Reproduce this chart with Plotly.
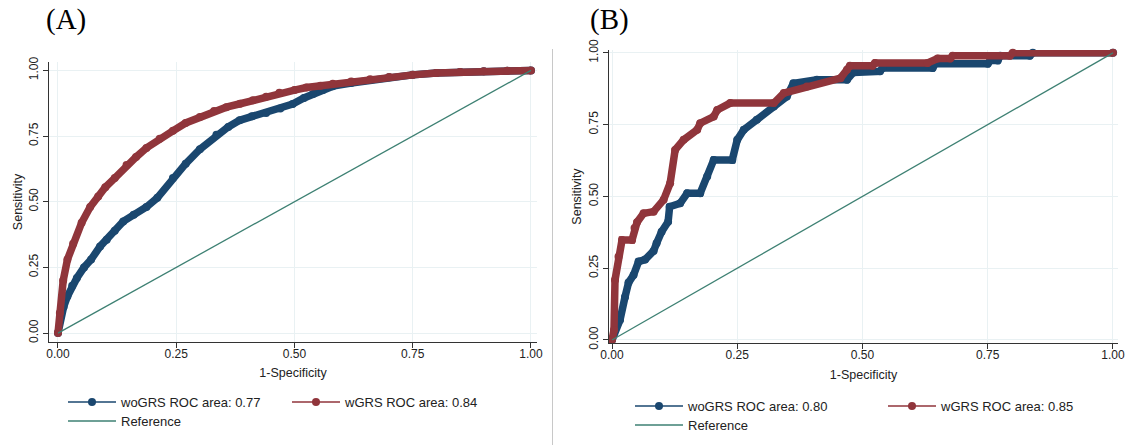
import plotly.graph_objects as go

W, H = 1132, 445

# ---------------- data ----------------
# Panel A
a_wo_x = [0, 0.005, 0.012, 0.02, 0.03, 0.04, 0.055, 0.07, 0.089, 0.103, 0.12, 0.138, 0.16, 0.187,
          0.21, 0.243, 0.27, 0.3, 0.335, 0.36, 0.384, 0.41, 0.44, 0.47, 0.496, 0.52, 0.539, 0.56,
          0.581, 0.62, 0.66, 0.7, 0.75, 0.8, 0.85, 0.9, 0.95, 1.0]
a_wo_y = [0, 0.06, 0.1, 0.14, 0.18, 0.21, 0.25, 0.28, 0.33, 0.355, 0.39, 0.425, 0.45, 0.48,
          0.515, 0.59, 0.645, 0.7, 0.755, 0.785, 0.81, 0.825, 0.838, 0.855, 0.872, 0.895, 0.91, 0.925,
          0.94, 0.952, 0.963, 0.974, 0.983, 0.99, 0.994, 0.997, 0.999, 1.0]
a_w_x = [0, 0.004, 0.011, 0.02, 0.032, 0.05, 0.068, 0.085, 0.1, 0.12, 0.145, 0.165, 0.187, 0.215,
         0.243, 0.27, 0.3, 0.33, 0.356, 0.385, 0.412, 0.44, 0.468, 0.5, 0.525, 0.555, 0.581, 0.62,
         0.66, 0.7, 0.75, 0.8, 0.85, 0.9, 0.95, 1.0]
a_w_y = [0, 0.076, 0.2, 0.28, 0.34, 0.42, 0.48, 0.52, 0.555, 0.59, 0.64, 0.67, 0.705, 0.74,
         0.77, 0.8, 0.823, 0.845, 0.86, 0.873, 0.886, 0.9, 0.915, 0.925, 0.935, 0.942, 0.949, 0.958,
         0.966, 0.975, 0.983, 0.99, 0.994, 0.997, 0.999, 1.0]

# Panel B
b_wo_x = [0, 0.016, 0.026, 0.033, 0.043, 0.053, 0.066, 0.083, 0.089, 0.099, 0.112, 0.115, 0.136,
          0.15, 0.176, 0.19, 0.203, 0.24, 0.25, 0.263, 0.289, 0.323, 0.349, 0.362, 0.409, 0.469,
          0.482, 0.535, 0.54, 0.64, 0.645, 0.75, 0.755, 0.77, 0.775, 0.834, 0.84, 1.0]
b_wo_y = [0, 0.07, 0.15, 0.2, 0.226, 0.273, 0.28, 0.31, 0.337, 0.377, 0.412, 0.464, 0.476,
          0.511, 0.511, 0.569, 0.627, 0.627, 0.697, 0.732, 0.767, 0.813, 0.848, 0.894, 0.906, 0.906,
          0.932, 0.936, 0.947, 0.947, 0.962, 0.962, 0.973, 0.973, 0.99, 0.99, 1.0, 1.0]
b_w_x = [0, 0.004, 0.006, 0.013, 0.02, 0.04, 0.045, 0.05, 0.063, 0.083, 0.103, 0.116, 0.126, 0.143,
         0.17, 0.176, 0.203, 0.21, 0.236, 0.323, 0.343, 0.389, 0.456, 0.469, 0.475, 0.52, 0.525,
         0.63, 0.65, 0.675, 0.68, 0.794, 0.8, 1.0]
b_w_y = [0, 0.035, 0.209, 0.29, 0.348, 0.348, 0.39, 0.41, 0.441, 0.447, 0.488, 0.546, 0.662, 0.697,
         0.732, 0.755, 0.778, 0.801, 0.825, 0.825, 0.86, 0.883, 0.912, 0.941, 0.955, 0.955, 0.965,
         0.965, 0.98, 0.98, 0.99, 0.99, 1.0, 1.0]

ref_x = [0, 1]
ref_y = [0, 1]

labels_a = ["woGRS ROC area: 0.77", "wGRS ROC area: 0.84"]
labels_b = ["woGRS ROC area: 0.80", "wGRS ROC area: 0.85"]
ticks = [0, 0.25, 0.5, 0.75, 1.0]
tick_text = ["0.00", "0.25", "0.50", "0.75", "1.00"]

NAVY = "#1a476f"
MAROON = "#90353b"
TEAL = "#3e8173"
GRID = "#e9f1f3"
FONT = "Liberation Sans"

fig = go.Figure()


def add_panel(xa, ya, wo_x, wo_y, w_x, w_y, labels, lg_wo, lg_ref, lg_w):
    fig.add_trace(go.Scatter(x=wo_x, y=wo_y, xaxis=xa, yaxis=ya, mode="lines+markers",
                             line=dict(color=NAVY, width=7.5), marker=dict(color=NAVY, size=8),
                             cliponaxis=False, showlegend=False, hoverinfo="skip"))
    fig.add_trace(go.Scatter(x=w_x, y=w_y, xaxis=xa, yaxis=ya, mode="lines+markers",
                             line=dict(color=MAROON, width=7.5), marker=dict(color=MAROON, size=8),
                             cliponaxis=False, showlegend=False, hoverinfo="skip"))
    fig.add_trace(go.Scatter(x=ref_x, y=ref_y, xaxis=xa, yaxis=ya, mode="lines",
                             line=dict(color=TEAL, width=1.3), showlegend=False, hoverinfo="skip"))
    # legend keys
    fig.add_trace(go.Scatter(x=[None], y=[None], xaxis=xa, yaxis=ya, mode="lines+markers",
                             line=dict(color=NAVY, width=1.5), marker=dict(color=NAVY, size=8),
                             name=labels[0], legend=lg_wo))
    fig.add_trace(go.Scatter(x=[None], y=[None], xaxis=xa, yaxis=ya, mode="lines",
                             line=dict(color=TEAL, width=1.5), name="Reference", legend=lg_ref))
    fig.add_trace(go.Scatter(x=[None], y=[None], xaxis=xa, yaxis=ya, mode="lines+markers",
                             line=dict(color=MAROON, width=1.5), marker=dict(color=MAROON, size=8),
                             name=labels[1], legend=lg_w))


add_panel("x", "y", a_wo_x, a_wo_y, a_w_x, a_w_y, labels_a, "legend", "legend2", "legend3")
add_panel("x2", "y2", b_wo_x, b_wo_y, b_w_x, b_w_y, labels_b, "legend4", "legend5", "legend6")

axis_common = dict(
    tickmode="array", tickvals=ticks, ticktext=tick_text,
    showgrid=True, gridcolor=GRID, gridwidth=1, zeroline=False,
    showline=True, linecolor="#333333", linewidth=1,
    ticks="outside", ticklen=5, tickcolor="#333333", automargin=False,
    tickfont=dict(family=FONT, size=12, color="#222222"),
)
title_font = dict(family=FONT, size=12.5, color="#222222")


def px_x(p):
    return p / W


def px_y(p):
    return 1 - p / H


fig.update_layout(
    width=W, height=H, margin=dict(l=0, r=0, t=0, b=0, autoexpand=False),
    paper_bgcolor="white", plot_bgcolor="white",
    xaxis=dict(axis_common, domain=[px_x(49), px_x(537)], range=[-0.019, 1.0127], anchor="y",
               ticklabelstandoff=-4,
               title=dict(text="1-Specificity", font=title_font, standoff=7)),
    yaxis=dict(axis_common, domain=[px_y(342), px_y(62)], range=[-0.034, 1.032], anchor="x",
               tickangle=-90,
               title=dict(text="Sensitivity", font=title_font, standoff=1)),
    xaxis2=dict(axis_common, domain=[px_x(609), px_x(1118)], range=[-0.006, 1.01], anchor="y2",
                ticklabelstandoff=-4,
                title=dict(text="1-Specificity", font=title_font, standoff=8)),
    yaxis2=dict(axis_common, domain=[px_y(343), px_y(50)], range=[-0.0105, 1.01], anchor="x2",
                tickangle=-90,
                title=dict(text="Sensitivity", font=title_font, standoff=2)),
)

leg_font = dict(family=FONT, size=13, color="#222222")
leg_common = dict(orientation="v", xanchor="left", yanchor="top", bgcolor="rgba(0,0,0,0)",
                  font=leg_font, tracegroupgap=0, itemwidth=48)
fig.update_layout(
    legend=dict(leg_common, x=px_x(63), y=px_y(387)),
    legend2=dict(leg_common, x=px_x(63), y=px_y(406)),
    legend3=dict(leg_common, x=px_x(287), y=px_y(387)),
    legend4=dict(leg_common, x=px_x(630), y=px_y(391)),
    legend5=dict(leg_common, x=px_x(630), y=px_y(410)),
    legend6=dict(leg_common, x=px_x(883), y=px_y(391)),
)

fig.add_annotation(text="(A)", x=px_x(66), y=px_y(19), xref="paper", yref="paper", showarrow=False,
                   xanchor="center", yanchor="middle",
                   font=dict(family="Liberation Serif", size=29, color="black"))
fig.add_annotation(text="(B)", x=px_x(609), y=px_y(19), xref="paper", yref="paper", showarrow=False,
                   xanchor="center", yanchor="middle",
                   font=dict(family="Liberation Serif", size=29, color="black"))

fig.add_shape(type="line", xref="paper", yref="paper", x0=px_x(552.5), x1=px_x(552.5),
              y0=0, y1=px_y(49), line=dict(color="#c8c8c8", width=1))

fig.write_html("out.html", config={"displayModeBar": False},
               post_script="document.body.style.margin='0px';")
